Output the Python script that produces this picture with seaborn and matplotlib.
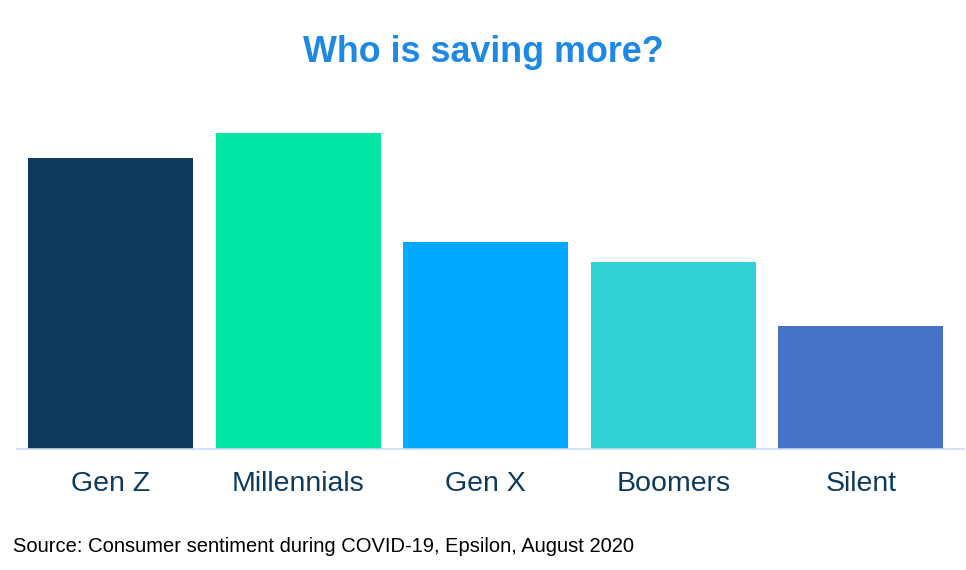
import matplotlib
matplotlib.use("Agg")
import matplotlib.pyplot as plt
import seaborn as sns
import pandas as pd

# data (share of group saving more, estimated)
generations = ["Gen Z", "Millennials", "Gen X", "Boomers", "Silent"]
saving_share = [47, 51, 33.4, 30.2, 19.8]
bar_colors = ["#0E3A5E", "#00E6A5", "#00AAFF", "#30D2D5", "#4472C4"]

title_text = "Who is saving more?"
source_text = "Source: Consumer sentiment during COVID-19, Epsilon, August 2020"

sns.set_style("white")
plt.rcParams["font.family"] = ["Liberation Sans", "DejaVu Sans"]

df = pd.DataFrame({"generation": generations, "share": saving_share})

fig = plt.figure(figsize=(9.66, 5.70), dpi=100)
ax = fig.add_axes([17 / 966, 121 / 570, 947 / 966, 349 / 570])

sns.barplot(data=df, x="generation", y="share", hue="generation",
            palette=bar_colors, width=0.88, legend=False, saturation=1,
            linewidth=0, ax=ax)

ax.set_xlim(-0.5, 4.55)
ax.set_ylim(0, 349 / 6.2)
ax.set_xlabel("")
ax.set_ylabel("")
ax.set_yticks([])
for side in ["top", "right", "left"]:
    ax.spines[side].set_visible(False)
ax.spines["bottom"].set_color("#C9DDF0")
ax.spines["bottom"].set_linewidth(1.2)
ax.tick_params(axis="x", length=0, pad=16, labelsize=20.5, labelcolor="#0E3A5E")

fig.text(0.5, 1 - 53 / 570, title_text, ha="center", va="center",
         fontsize=25.8, fontweight="bold", color="#1E88E5")
fig.text(13 / 966, 1 - 546 / 570, source_text, ha="left", va="center",
         fontsize=14.5, color="black")

fig.savefig("out.png", dpi=100)
